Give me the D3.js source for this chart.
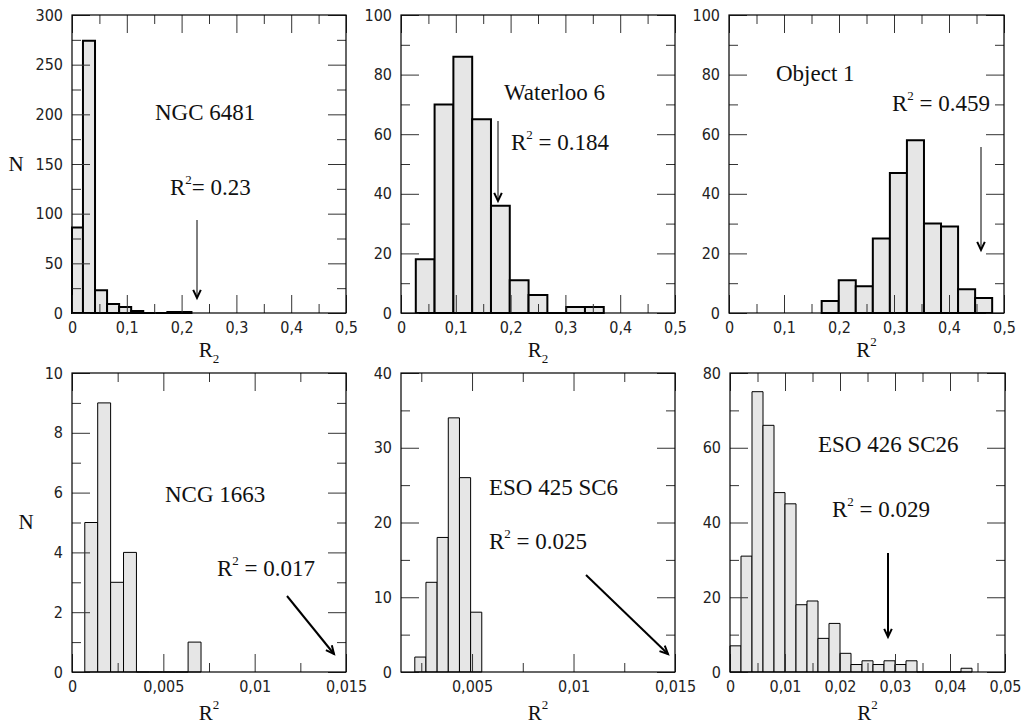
<!DOCTYPE html>
<html><head><meta charset="utf-8">
<script src="https://cdn.jsdelivr.net/npm/d3@7"></script>
<style>body{margin:0;background:#fff} svg{display:block}</style>
</head><body><svg id="c" width="1023" height="726"></svg>
<script>
// ---------- DATA ----------
const panelNames = ["NGC 6481", "Waterloo 6", "Object 1", "NCG 1663", "ESO 425 SC6", "ESO 426 SC26"];
const r2Values = ["0.23", "0.184", "0.459", "0.017", "0.025", "0.029"];

// histogram counts and bin definition [first bin left edge, bin width]
const p1Counts = [86, 274, 23, 9, 6, 2, 0, 0, 1, 1];          const p1Bin = [-0.002, 0.022];
const p2Counts = [18, 70, 86, 65, 36, 11, 6, 0, 2, 2];         const p2Bin = [0.027, 0.0343];
const p3Counts = [4, 11, 9, 25, 47, 58, 30, 29, 8, 5];         const p3Bin = [0.1685, 0.031];
const p4Counts = [5, 9, 3, 4, 0, 0, 0, 0, 1];                  const p4Bin = [0.0007, 0.000707];
const p5Counts = [2, 12, 18, 34, 26, 8];                       const p5Bin = [0.00218, 0.00055];
const p6Counts = [7, 31, 75, 66, 48, 45, 18, 19, 9, 13, 5, 2, 3, 2, 3, 2, 3, 0, 0, 0, 0, 1]; const p6Bin = [0, 0.002];

// axes
const xTopMajor = [0, 0.1, 0.2, 0.3, 0.4, 0.5];
const xTopMinor = [0.05, 0.15, 0.25, 0.35, 0.45];
const xTopLabels = ["0", "0,1", "0,2", "0,3", "0,4", "0,5"];
const x4Major = [0, 0.005, 0.01, 0.015];
const x4Minor = [0.0025, 0.0075, 0.0125];
const x4Labels = ["0", "0,005", "0,01", "0,015"];
const x5Major = [0.005, 0.01, 0.015];
const x5Minor = [0.0025, 0.0075, 0.0125];
const x5Labels = ["0,005", "0,01", "0,015"];
const x6Major = [0, 0.01, 0.02, 0.03, 0.04, 0.05];
const x6Minor = [0.005, 0.015, 0.025, 0.035, 0.045];
const x6Labels = ["0", "0,01", "0,02", "0,03", "0,04", "0,05"];

const y1Major = [0, 50, 100, 150, 200, 250, 300];
const y1Minor = [25, 75, 125, 175, 225, 275];
const y23Major = [0, 20, 40, 60, 80, 100];
const y23Minor = [10, 30, 50, 70, 90];
const y4Major = [0, 2, 4, 6, 8, 10];
const y4Minor = [1, 3, 5, 7, 9];
const y5Major = [0, 10, 20, 30, 40];
const y5Minor = [5, 15, 25, 35];
const y6Major = [0, 20, 40, 60, 80];
const y6Minor = [10, 30, 50, 70];

// ---------- LAYOUT ----------
const SERIF = "'Liberation Serif','Times New Roman',serif";
const SANS = "'Liberation Sans Narrow','DejaVu Sans Condensed','Liberation Sans',sans-serif";

const panels = [
  {counts:p1Counts, bin:p1Bin, xd:[0,0.5], yd:[0,300], xM:xTopMajor, xm:xTopMinor, xl:xTopLabels, yM:y1Major, ym:y1Minor,
   box:[72,15,346,313], thick:true, xt:"sub", yt:[16,171],
   title:[83,105], r2:[98,180], r2gap:false, arrow:[125,205,125,283]},
  {counts:p2Counts, bin:p2Bin, xd:[0,0.5], yd:[0,100], xM:xTopMajor, xm:xTopMinor, xl:xTopLabels, yM:y23Major, ym:y23Minor,
   box:[401,15,675,313], thick:true, xt:"sub", yt:null,
   title:[103,85], r2:[110,135], r2gap:true, arrow:[97,106,97,186]},
  {counts:p3Counts, bin:p3Bin, xd:[0,0.5], yd:[0,100], xM:xTopMajor, xm:xTopMinor, xl:xTopLabels, yM:y23Major, ym:y23Minor,
   box:[729,15,1004,313], thick:true, xt:"sup", yt:null,
   title:[47,66], r2:[163,96], r2gap:true, arrow:[252,132,252,235]},
  {counts:p4Counts, bin:p4Bin, xd:[0,0.015], yd:[0,10], xM:x4Major, xm:x4Minor, xl:x4Labels, yM:y4Major, ym:y4Minor,
   box:[72,373,346,672], thick:false, xt:"sup", yt:[26,529],
   title:[93,129], r2:[145,203], r2gap:true, arrow:[215,223,262,281]},
  {counts:p5Counts, bin:p5Bin, xd:[0.0015,0.015], yd:[0,40], xM:x5Major, xm:x5Minor, xl:x5Labels, yM:y5Major, ym:y5Minor,
   box:[401,373,675,672], thick:false, xt:"sup", yt:null,
   title:[88,122], r2:[88,176], r2gap:true, arrow:[185,202,267,281]},
  {counts:p6Counts, bin:p6Bin, xd:[0,0.05], yd:[0,80], xM:x6Major, xm:x6Minor, xl:x6Labels, yM:y6Major, ym:y6Minor,
   box:[730,373,1005,672], thick:false, xt:"sup", yt:null,
   title:[88,79], r2:[102,144], r2gap:true, arrow:[158,180,158,264]}
];

const svg = d3.select("#c");

function arrow(g, x1, y1, x2, y2, lw) {
  g.append("line").attr("x1",x1).attr("y1",y1).attr("x2",x2).attr("y2",y2)
    .attr("stroke","#000").attr("stroke-width",lw);
  const a = Math.atan2(y2-y1, x2-x1), L = 9, th = 25*Math.PI/180;
  const p1 = [x2 - L*Math.cos(a-th), y2 - L*Math.sin(a-th)];
  const p2 = [x2 - L*Math.cos(a+th), y2 - L*Math.sin(a+th)];
  g.append("path").attr("d", `M${p1[0]},${p1[1]}L${x2},${y2}L${p2[0]},${p2[1]}`)
    .attr("fill","none").attr("stroke","#000").attr("stroke-width",2);
}

panels.forEach((p, i) => {
  const [L, T, R, B] = p.box;
  const x = d3.scaleLinear().domain(p.xd).range([L, R]);
  const y = d3.scaleLinear().domain(p.yd).range([B, T]);
  const g = svg.append("g");

  // bars
  const bars = p.counts.map((c, k) => ({x0: Math.max(p.xd[0], p.bin[0] + k*p.bin[1]), x1: p.bin[0] + (k+1)*p.bin[1], c}));
  g.append("g").selectAll("path").data(bars).join("path")
    .attr("d", d => `M${x(d.x0)},${y(0)}V${y(d.c)}H${x(d.x1)}V${y(0)}Z`)
    .attr("fill", "#e6e6e6")
    .attr("stroke", "#000")
    .attr("stroke-width", p.thick ? 2 : 1)
    .attr("stroke-linejoin", "miter");

  // axes with inward ticks
  const tickCol = "#333";
  const addAxis = (axisGen, tr, major, minor, labels) => {
    const ga = g.append("g").attr("transform", tr)
      .call(axisGen.tickValues(major).tickSize(-18).tickPadding(labels ? 9 : 0)
        .tickFormat((d, j) => labels ? labels[j] : ""));
    ga.select(".domain").remove();
    ga.selectAll("line").attr("stroke", tickCol);
    ga.selectAll("text").attr("font-family", SANS).attr("font-size", 16).attr("fill", "#222");
    const gm = g.append("g").attr("transform", tr)
      .call(axisGen.tickValues(minor).tickSize(-9).tickFormat(""));
    gm.select(".domain").remove();
    gm.selectAll("line").attr("stroke", tickCol);
    return ga;
  };
  addAxis(d3.axisBottom(x), `translate(0,${B})`, p.xM, p.xm, p.xl);
  addAxis(d3.axisTop(x), `translate(0,${T})`, p.xM, p.xm, null);
  const gl = addAxis(d3.axisLeft(y), `translate(${L},0)`, p.yM, p.ym, p.yM.map(String));
  addAxis(d3.axisRight(y), `translate(${R},0)`, p.yM, p.ym, null);

  // frame
  g.append("rect").attr("x", L).attr("y", T).attr("width", R-L).attr("height", B-T)
    .attr("fill", "none").attr("stroke", "#000").attr("stroke-width", 1.2);

  // annotation: object name
  g.append("text").attr("x", L + p.title[0]).attr("y", T + p.title[1])
    .attr("font-family", SERIF).attr("font-size", 23).attr("fill", "#111").text(panelNames[i]);
  // annotation: R^2 value
  const t = g.append("text").attr("x", L + p.r2[0]).attr("y", T + p.r2[1])
    .attr("font-family", SERIF).attr("font-size", 23).attr("fill", "#111");
  t.append("tspan").text("R");
  t.append("tspan").attr("font-size", 13).attr("dy", -11).text("2");
  t.append("tspan").attr("dy", 11).text((p.r2gap ? " = " : "= ") + r2Values[i]);
  arrow(g, L + p.arrow[0], T + p.arrow[1], L + p.arrow[2], T + p.arrow[3], p.thick ? 1 : 2);

  // x axis title
  const cx = (L + R) / 2;
  const xt = g.append("text").attr("x", cx).attr("y", B + (p.thick ? 44 : 48))
    .attr("text-anchor", "middle").attr("font-family", SERIF).attr("font-size", 21).attr("fill", "#111");
  xt.append("tspan").text("R");
  if (p.xt === "sub") {
    xt.append("tspan").attr("font-size", 13).attr("dy", 6).text("2");
  } else {
    xt.append("tspan").attr("font-size", 13).attr("dy", -11).text("2");
  }
  // y axis title
  if (p.yt) {
    g.append("text").attr("x", p.yt[0]).attr("y", p.yt[1]).attr("text-anchor", "middle")
      .attr("font-family", SERIF).attr("font-size", 21).attr("fill", "#111").text("N");
  }
});
</script>
</body></html>
